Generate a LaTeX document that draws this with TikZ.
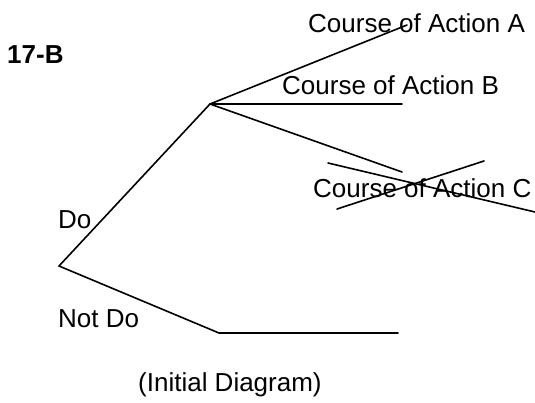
\documentclass[tikz,border=0pt]{standalone}
\usepackage{fontspec}
\setmainfont{Liberation Sans}
\begin{document}
\begin{tikzpicture}[x=1pt,y=-1pt,
  lbl/.style={inner sep=0pt,anchor=base west,font=\fontsize{26}{31}\selectfont},
  branch/.style={line width=1.6pt,line cap=round,line join=round}]
\useasboundingbox (0,0) rectangle (535,402);
\fill[white] (0,0) rectangle (535,402);
% points
\coordinate (root) at (59,266);
\coordinate (dec) at (210,104);
\coordinate (aend) at (407,25);
\coordinate (bend) at (402,104);
\coordinate (cend) at (402,172);
\coordinate (nd) at (219,333);
\coordinate (ndend) at (398,333);
\coordinate (x1a) at (328,163);
\coordinate (x1b) at (535,212);
\coordinate (x2a) at (337,209);
\coordinate (x2b) at (484,161);
% labels
\node[lbl,font=\fontsize{26}{31}\selectfont\bfseries] (title) at (7,63) {17-B};
\node[lbl] (la) at (308,32) {Course of Action A};
\node[lbl] (lb) at (282,94) {Course of Action B};
\node[lbl] (lc) at (313,197) {Course of Action C};
\node[lbl] (ldo) at (58,228) {Do};
\node[lbl] (lnd) at (58,327) {Not Do};
\node[lbl] (cap) at (138,391) {(Initial Diagram)};
% branches
\draw[branch] (root) -- (dec);
\draw[branch] (dec) -- (aend);
\draw[branch] (dec) -- (bend);
\draw[branch] (dec) -- (cend);
\draw[branch] (root) -- (nd) -- (ndend);
% cross-out
\draw[branch] (x1a) -- (x1b);
\draw[branch] (x2a) -- (x2b);
\end{tikzpicture}
\end{document}
